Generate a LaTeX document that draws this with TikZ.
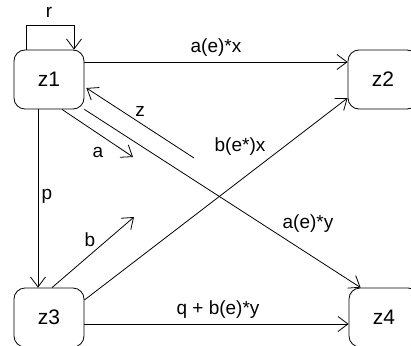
\documentclass[tikz,border=0pt]{standalone}
\usepackage{fontspec}
\setmainfont{Liberation Sans}
\usetikzlibrary{arrows.meta}
\begin{document}
\begin{tikzpicture}[x=1pt,y=-1pt,
  statebox/.style={draw, line width=0.8pt, rounded corners=11pt, minimum width=70pt, minimum height=59pt, inner sep=0pt, font=\fontsize{21}{25}\selectfont},
  arr/.style={draw, line width=0.8pt, -{Straight Barb[length=10pt,width=15pt,line width=0.8pt]}},
  lbl/.style={inner sep=0pt, font=\fontsize{19}{23}\selectfont}]
\useasboundingbox (0,0) rectangle (411,345);
\fill[white] (0,0) rectangle (411,345);
\node[statebox] (z1) at (49,79.5) {z1};
\node[statebox] (z2) at (383,79.5) {z2};
\node[statebox] (z3) at (49,317.5) {z3};
\node[statebox] (z4) at (384,317.5) {z4};
\coordinate (zs) at (194,158);
\coordinate (ae) at (133,157);
\coordinate (be) at (134,217);
% loop r
\draw[arr] ([xshift=-23pt]z1.north) -- ++(0,-24) -| ([xshift=25pt]z1.north);
\node[lbl] (lr) at (49,12) {r};
% z1 -> z2
\draw[arr] ([yshift=17.5pt]z1.east) -- ([yshift=17.5pt]z2.west);
\node[lbl] (lax) at (216,48) {a(e)*x};
% z line
\draw[arr] (zs) -- ([yshift=-8.5pt,xshift=2pt]z1.east);
\node[lbl] (lz) at (140,111) {z};
% a line
\draw[arr] ([xshift=13pt]z1.south) -- (ae);
\node[lbl] (la) at (98,152) {a};
% z1 -> z4
\draw[arr] (z1.south east) -- ([xshift=12pt]z4.north west);
\node[lbl] (lay) at (308,224) {a(e)*y};
% p
\draw[arr] ([xshift=-11pt]z1.south) -- ([xshift=-11pt]z3.north);
\node[lbl] (lp) at (47,196) {p};
% b
\draw[arr] ([xshift=3pt]z3.north) -- (be);
\node[lbl] (lb) at (90,240) {b};
% z3 -> z2
\draw[arr] ([yshift=17.5pt]z3.east) -- ([yshift=-18.5pt]z2.west);
\node[lbl] (lbx) at (240,147) {b(e*)x};
% z3 -> z4
\draw[arr] ([yshift=-6.5pt]z3.east) -- ([yshift=-6.5pt]z4.west);
\node[lbl] (lq) at (218,310) {q + b(e)*y};
\end{tikzpicture}
\end{document}
